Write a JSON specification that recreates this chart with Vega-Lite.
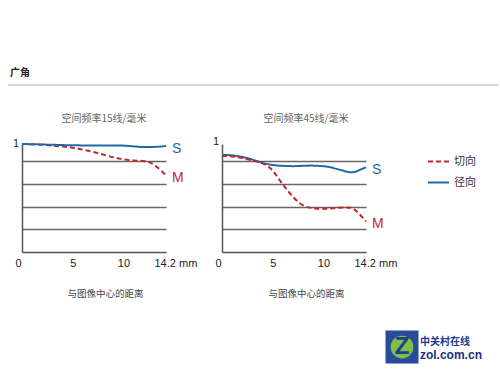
{
  "$schema": "https://vega.github.io/schema/vega-lite/v6.json",
  "padding": {"left": 7, "top": 68, "right": 0, "bottom": 0},
  "background": "white",
  "config": {
    "font": "Liberation Sans, Noto Sans CJK SC",
    "view": {"stroke": null},
    "axis": {"labelFont": "Liberation Sans, Noto Sans CJK SC", "titleFont": "Noto Sans CJK SC"}
  },
  "datasets": {
    "one": [{}],
    "p15": [
      {"x": 0, "y": 1.0, "series": "切向"}, {"x": 1, "y": 0.998, "series": "切向"}, {"x": 2, "y": 0.993, "series": "切向"},
      {"x": 3, "y": 0.985, "series": "切向"}, {"x": 4, "y": 0.977, "series": "切向"}, {"x": 5, "y": 0.966, "series": "切向"},
      {"x": 6, "y": 0.948, "series": "切向"}, {"x": 7, "y": 0.927, "series": "切向"}, {"x": 8, "y": 0.902, "series": "切向"},
      {"x": 9, "y": 0.877, "series": "切向"}, {"x": 10, "y": 0.858, "series": "切向"}, {"x": 11, "y": 0.847, "series": "切向"},
      {"x": 12, "y": 0.842, "series": "切向"}, {"x": 12.6, "y": 0.83, "series": "切向"}, {"x": 13.2, "y": 0.795, "series": "切向"},
      {"x": 13.7, "y": 0.755, "series": "切向"}, {"x": 14.2, "y": 0.71, "series": "切向"},
      {"x": 0, "y": 1.0, "series": "径向"}, {"x": 1, "y": 0.998, "series": "径向"}, {"x": 2, "y": 0.995, "series": "径向"},
      {"x": 3, "y": 0.993, "series": "径向"}, {"x": 4, "y": 0.99, "series": "径向"}, {"x": 5, "y": 0.988, "series": "径向"},
      {"x": 6, "y": 0.987, "series": "径向"}, {"x": 7, "y": 0.986, "series": "径向"}, {"x": 8, "y": 0.987, "series": "径向"},
      {"x": 9, "y": 0.987, "series": "径向"}, {"x": 10, "y": 0.985, "series": "径向"}, {"x": 11, "y": 0.978, "series": "径向"},
      {"x": 12, "y": 0.972, "series": "径向"}, {"x": 13, "y": 0.973, "series": "径向"}, {"x": 13.7, "y": 0.977, "series": "径向"},
      {"x": 14.2, "y": 0.982, "series": "径向"}
    ],
    "p45": [
      {"x": 0, "y": 0.898, "series": "径向"}, {"x": 0.7, "y": 0.897, "series": "径向"}, {"x": 1.4, "y": 0.89, "series": "径向"},
      {"x": 2, "y": 0.88, "series": "径向"}, {"x": 2.7, "y": 0.865, "series": "径向"}, {"x": 3.5, "y": 0.84, "series": "径向"},
      {"x": 4.3, "y": 0.818, "series": "径向"}, {"x": 5, "y": 0.806, "series": "径向"}, {"x": 6, "y": 0.798, "series": "径向"},
      {"x": 7, "y": 0.795, "series": "径向"}, {"x": 8, "y": 0.798, "series": "径向"}, {"x": 8.8, "y": 0.8, "series": "径向"},
      {"x": 9.6, "y": 0.797, "series": "径向"}, {"x": 10.4, "y": 0.79, "series": "径向"}, {"x": 11.2, "y": 0.772, "series": "径向"},
      {"x": 11.8, "y": 0.757, "series": "径向"}, {"x": 12.4, "y": 0.742, "series": "径向"}, {"x": 12.8, "y": 0.738, "series": "径向"},
      {"x": 13.2, "y": 0.745, "series": "径向"}, {"x": 13.7, "y": 0.765, "series": "径向"}, {"x": 14.2, "y": 0.784, "series": "径向"},
      {"x": 0, "y": 0.889, "series": "切向"}, {"x": 0.7, "y": 0.887, "series": "切向"}, {"x": 1.4, "y": 0.88, "series": "切向"},
      {"x": 2, "y": 0.87, "series": "切向"}, {"x": 2.7, "y": 0.855, "series": "切向"}, {"x": 3.5, "y": 0.835, "series": "切向"},
      {"x": 4, "y": 0.82, "series": "切向"}, {"x": 4.5, "y": 0.795, "series": "切向"}, {"x": 5, "y": 0.755, "series": "切向"},
      {"x": 5.5, "y": 0.69, "series": "切向"}, {"x": 6, "y": 0.625, "series": "切向"}, {"x": 6.5, "y": 0.565, "series": "切向"},
      {"x": 7, "y": 0.51, "series": "切向"}, {"x": 7.5, "y": 0.465, "series": "切向"}, {"x": 8, "y": 0.432, "series": "切向"},
      {"x": 8.5, "y": 0.413, "series": "切向"}, {"x": 9, "y": 0.405, "series": "切向"}, {"x": 9.7, "y": 0.4, "series": "切向"},
      {"x": 10.3, "y": 0.4, "series": "切向"}, {"x": 11, "y": 0.405, "series": "切向"}, {"x": 11.6, "y": 0.41, "series": "切向"},
      {"x": 12.2, "y": 0.412, "series": "切向"}, {"x": 12.7, "y": 0.41, "series": "切向"}, {"x": 13.1, "y": 0.39, "series": "切向"},
      {"x": 13.5, "y": 0.355, "series": "切向"}, {"x": 13.9, "y": 0.315, "series": "切向"}, {"x": 14.2, "y": 0.285, "series": "切向"}
    ]
  },
  "hconcat": [
    {
      "width": 144,
      "height": 108,
      "layer": [
        {
          "data": {"name": "p15"},
          "mark": {"type": "line", "strokeWidth": 2, "interpolate": "monotone"},
          "encoding": {
            "x": {"field": "x", "type": "quantitative", "scale": {"domain": [0, 14.2], "nice": false, "zero": false},
              "axis": {"values": [0, 5, 10, 14.2], "tickCount": 10, "labelExpr": "datum.value > 14 ? '14.2 mm' : datum.label", "ticks": false, "grid": false,
                "domainColor": "#555", "domainWidth": 1.5, "labelFontSize": 11, "labelColor": "#222", "labelPadding": 5,
                "labelAlign": {"condition": {"test": "datum.value > 14", "value": "left"}, "value": "center"},
                "labelOffset": {"condition": [{"test": "datum.value > 14", "value": -12}, {"test": "datum.value == 0", "value": -4}], "value": 0},
                "title": "与图像中心的距离", "titleFontSize": 9.5, "titleFontWeight": "normal", "titleColor": "#444", "titlePadding": 20, "titleX": 83}},
            "y": {"field": "y", "type": "quantitative", "scale": {"domain": [0, 1], "nice": false},
              "axis": {"values": [0.21, 0.42, 0.63, 0.84], "tickCount": 10, "labels": false, "ticks": false, "grid": true,
                "gridColor": "#666", "gridWidth": 1.5,
                "domainColor": "#555", "domainWidth": 1.5, "title": null}},
            "color": {"field": "series", "type": "nominal", "scale": {"domain": ["切向", "径向"], "range": ["#c0272d", "#1f6aa5"]},
              "legend": {"title": null, "orient": "none", "legendX": 405, "legendY": 6, "symbolType": "stroke", "symbolSize": 441, "symbolStrokeWidth": 2, "labelFontSize": 11, "labelColor": "#333", "labelOffset": 4, "rowPadding": 4, "padding": 0}},
            "strokeDash": {"field": "series", "type": "nominal", "scale": {"domain": ["切向", "径向"], "range": [[5, 3], [1, 0]]},
              "legend": {"title": null, "orient": "none", "legendX": 405, "legendY": 6, "symbolType": "stroke", "symbolSize": 441, "symbolStrokeWidth": 2, "labelFontSize": 11, "labelColor": "#333", "labelOffset": 4, "rowPadding": 4, "padding": 0}}
          }
        },
        {
          "data": {"name": "p15"},
          "transform": [{"filter": "datum.x == 14.2"}],
          "mark": {"type": "text", "align": "left", "baseline": "middle", "dx": 6, "dy": 3, "fontSize": 14},
          "encoding": {
            "x": {"field": "x", "type": "quantitative"},
            "y": {"field": "y", "type": "quantitative"},
            "text": {"condition": {"test": "datum.series == '径向'", "value": "S"}, "value": "M"},
            "color": {"condition": {"test": "datum.series == '径向'", "value": "#1f6aa5"}, "value": "#c0272d"}
          }
        },
        {
          "data": {"name": "one"},
          "mark": {"type": "text", "align": "right", "baseline": "middle", "dx": -3, "fontSize": 11, "color": "#222"},
          "encoding": {
            "x": {"datum": 0, "type": "quantitative"},
            "y": {"datum": 1, "type": "quantitative"},
            "text": {"value": "1"}
          }
        },
        {
          "data": {"name": "one"},
          "mark": {"type": "text", "align": "center", "baseline": "middle", "fontSize": 10, "color": "#666", "font": "Noto Sans CJK SC"},
          "encoding": {
            "x": {"datum": 8.09, "type": "quantitative"},
            "y": {"datum": 1.236, "type": "quantitative"},
            "text": {"value": "空间频率15线/毫米"}
          }
        },
        {
          "data": {"name": "one"},
          "mark": {"type": "rule", "color": "#d8d8d8", "strokeWidth": 2},
          "encoding": {
            "x": {"datum": -1.38, "type": "quantitative"},
            "x2": {"datum": 47},
            "y": {"datum": 1.546, "type": "quantitative"}
          }
        },
        {
          "data": {"name": "one"},
          "mark": {"type": "text", "align": "left", "baseline": "middle", "fontSize": 10, "fontWeight": "bold", "color": "#222", "font": "Noto Sans CJK SC"},
          "encoding": {
            "x": {"datum": -1.18, "type": "quantitative"},
            "y": {"datum": 1.657, "type": "quantitative"},
            "text": {"value": "广角"}
          }
        }
      ]
    },
    {
      "width": 144,
      "height": 108,
      "layer": [
        {
          "data": {"name": "p45"},
          "mark": {"type": "line", "strokeWidth": 2, "interpolate": "monotone"},
          "encoding": {
            "x": {"field": "x", "type": "quantitative", "scale": {"domain": [0, 14.2], "nice": false, "zero": false},
              "axis": {"values": [0, 5, 10, 14.2], "tickCount": 10, "labelExpr": "datum.value > 14 ? '14.2 mm' : datum.label", "ticks": false, "grid": false,
                "domainColor": "#555", "domainWidth": 1.5, "labelFontSize": 11, "labelColor": "#222", "labelPadding": 5,
                "labelAlign": {"condition": {"test": "datum.value > 14", "value": "left"}, "value": "center"},
                "labelOffset": {"condition": [{"test": "datum.value > 14", "value": -12}, {"test": "datum.value == 0", "value": -4}], "value": 0},
                "title": "与图像中心的距离", "titleFontSize": 9.5, "titleFontWeight": "normal", "titleColor": "#444", "titlePadding": 20, "titleX": 84}},
            "y": {"field": "y", "type": "quantitative", "scale": {"domain": [0, 1], "nice": false},
              "axis": {"values": [0.21, 0.42, 0.63, 0.84], "tickCount": 10, "labels": false, "ticks": false, "grid": true,
                "gridColor": "#666", "gridWidth": 1.5,
                "domainColor": "#555", "domainWidth": 1.5, "title": null}},
            "color": {"field": "series", "type": "nominal", "scale": {"domain": ["切向", "径向"], "range": ["#c0272d", "#1f6aa5"]},
              "legend": {"title": null, "orient": "none", "legendX": 405, "legendY": 6, "symbolType": "stroke", "symbolSize": 441, "symbolStrokeWidth": 2, "labelFontSize": 11, "labelColor": "#333", "labelOffset": 4, "rowPadding": 4, "padding": 0}},
            "strokeDash": {"field": "series", "type": "nominal", "scale": {"domain": ["切向", "径向"], "range": [[5, 3], [1, 0]]},
              "legend": {"title": null, "orient": "none", "legendX": 405, "legendY": 6, "symbolType": "stroke", "symbolSize": 441, "symbolStrokeWidth": 2, "labelFontSize": 11, "labelColor": "#333", "labelOffset": 4, "rowPadding": 4, "padding": 0}}
          }
        },
        {
          "data": {"name": "p45"},
          "transform": [{"filter": "datum.x == 14.2"}],
          "mark": {"type": "text", "align": "left", "baseline": "middle", "dx": 6, "dy": 3, "fontSize": 14},
          "encoding": {
            "x": {"field": "x", "type": "quantitative"},
            "y": {"field": "y", "type": "quantitative"},
            "text": {"condition": {"test": "datum.series == '径向'", "value": "S"}, "value": "M"},
            "color": {"condition": {"test": "datum.series == '径向'", "value": "#1f6aa5"}, "value": "#c0272d"}
          }
        },
        {
          "data": {"name": "one"},
          "mark": {"type": "text", "align": "right", "baseline": "middle", "dx": -3, "dy": -2, "fontSize": 11, "color": "#222"},
          "encoding": {
            "x": {"datum": 0, "type": "quantitative"},
            "y": {"datum": 1, "type": "quantitative"},
            "text": {"value": "1"}
          }
        },
        {
          "data": {"name": "one"},
          "mark": {"type": "text", "align": "center", "baseline": "middle", "fontSize": 10, "color": "#666", "font": "Noto Sans CJK SC"},
          "encoding": {
            "x": {"datum": 8.28, "type": "quantitative"},
            "y": {"datum": 1.236, "type": "quantitative"},
            "text": {"value": "空间频率45线/毫米"}
          }
        },
        {
          "data": {"name": "one"},
          "mark": {"type": "square", "filled": true, "color": "#2a4a9c", "size": 1089, "opacity": 1},
          "encoding": {
            "x": {"datum": 17.75, "type": "quantitative"},
            "y": {"datum": -0.88, "type": "quantitative"}
          }
        },
        {
          "data": {"name": "one"},
          "mark": {"type": "circle", "filled": true, "color": "#7cc242", "size": 520, "opacity": 1},
          "encoding": {
            "x": {"datum": 17.75, "type": "quantitative"},
            "y": {"datum": -0.88, "type": "quantitative"}
          }
        },
        {
          "data": {"name": "one"},
          "mark": {"type": "text", "align": "center", "baseline": "middle", "fontSize": 24, "fontWeight": "bold", "color": "#1f3d96", "font": "Liberation Sans"},
          "encoding": {
            "x": {"datum": 17.75, "type": "quantitative"},
            "y": {"datum": -0.88, "type": "quantitative"},
            "text": {"value": "Z"}
          }
        },
        {
          "data": {"name": "one"},
          "mark": {"type": "text", "align": "left", "baseline": "middle", "fontSize": 10, "fontWeight": "bold", "color": "#1a3a8f", "font": "Noto Sans CJK SC"},
          "encoding": {
            "x": {"datum": 19.52, "type": "quantitative"},
            "y": {"datum": -0.83, "type": "quantitative"},
            "text": {"value": "中关村在线"}
          }
        },
        {
          "data": {"name": "one"},
          "mark": {"type": "text", "align": "left", "baseline": "middle", "fontSize": 12, "fontWeight": "bold", "color": "#1a2f80", "font": "Liberation Sans"},
          "encoding": {
            "x": {"datum": 19.52, "type": "quantitative"},
            "y": {"datum": -0.95, "type": "quantitative"},
            "text": {"value": "zol.com.cn"}
          }
        }
      ]
    }
  ],
  "spacing": 56,
  "bounds": "flush"
}
